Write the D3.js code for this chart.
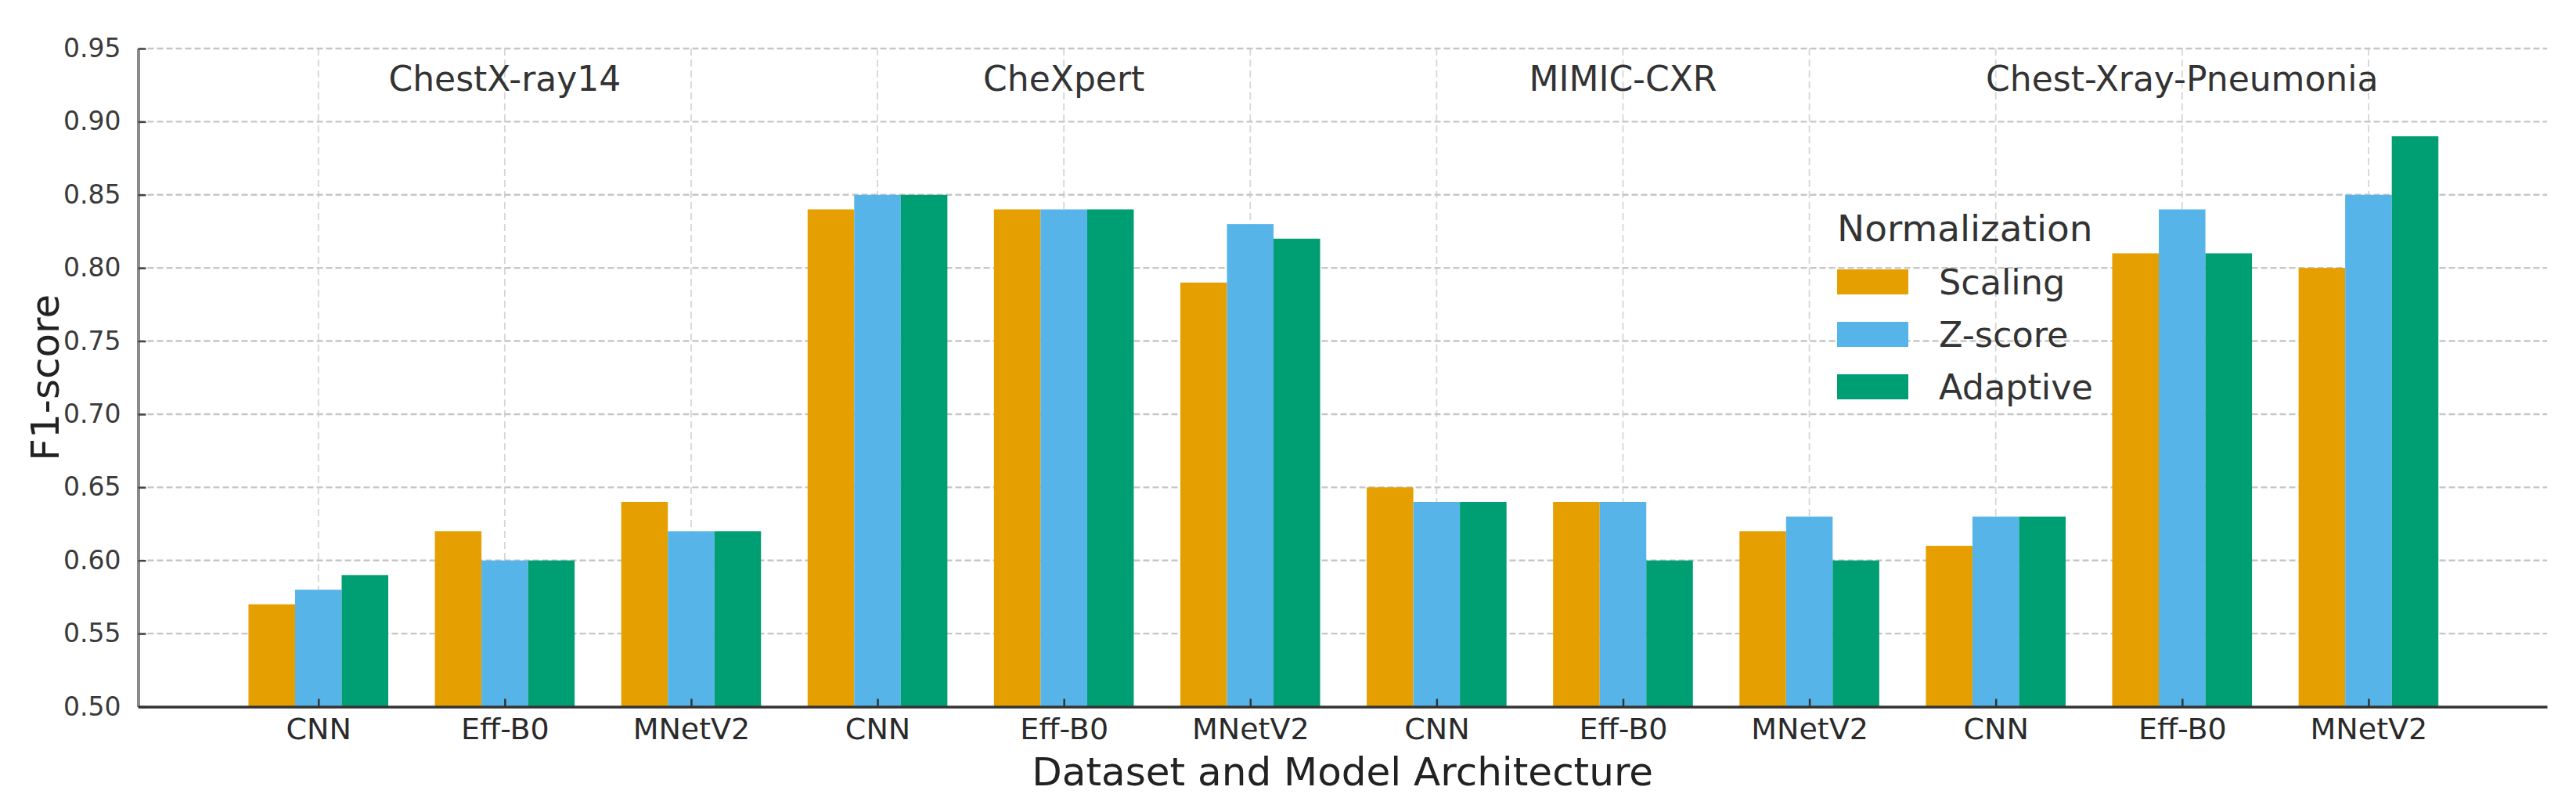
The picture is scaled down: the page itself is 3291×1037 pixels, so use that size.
<!DOCTYPE html>
<html>
<head>
<meta charset="utf-8">
<script src="https://cdn.jsdelivr.net/npm/d3@7"></script>
<style>
  html, body { margin: 0; padding: 0; background: #ffffff; }
  svg { display: block; font-family: "DejaVu Sans", sans-serif; }
</style>
</head>
<body>
<svg id="chart" width="3291" height="1037"></svg>
<script>
// ---- data ----
const datasets = ["ChestX-ray14", "CheXpert", "MIMIC-CXR", "Chest-Xray-Pneumonia"];
const models = ["CNN", "Eff-B0", "MNetV2"];
const methods = ["Scaling", "Z-score", "Adaptive"];
const scalingValues  = [0.57, 0.62, 0.64, 0.84, 0.84, 0.79, 0.65, 0.64, 0.62, 0.61, 0.81, 0.80];
const zscoreValues   = [0.58, 0.60, 0.62, 0.85, 0.84, 0.83, 0.64, 0.64, 0.63, 0.63, 0.84, 0.85];
const adaptiveValues = [0.59, 0.60, 0.62, 0.85, 0.84, 0.82, 0.64, 0.60, 0.60, 0.63, 0.81, 0.89];
const yTicks = [0.50, 0.55, 0.60, 0.65, 0.70, 0.75, 0.80, 0.85, 0.90, 0.95];
const xLabels = datasets.flatMap(() => models);
const seriesValues = [scalingValues, zscoreValues, adaptiveValues];
const colors = ["#E69F00", "#56B4E9", "#009E73"];

(function () {
// ---- layout ----
const svg = d3.select("#chart");
const pLeft = 176.5, pRight = 3254, pTop = 62, pBottom = 902.5;
const x = d3.scaleLinear().domain([-0.967, 11.958]).range([pLeft, pRight]);
const y = d3.scaleLinear().domain([0.50, 0.95]).range([pBottom, pTop]);
const barStep = 0.25;
const barW = x(barStep) - x(0);
const idx = d3.range(xLabels.length);

// gridlines
const grid = svg.append("g");
grid.selectAll("line.v").data(idx).join("line")
  .attr("class", "v")
  .attr("x1", d => x(d)).attr("x2", d => x(d))
  .attr("y1", pTop).attr("y2", pBottom)
  .attr("stroke", "#d6d6d6").attr("stroke-width", 1.8)
  .attr("stroke-dasharray", "9,5");
grid.selectAll("line.h").data(yTicks.slice(1)).join("line")
  .attr("class", "h")
  .attr("x1", pLeft).attr("x2", pRight)
  .attr("y1", d => y(d)).attr("y2", d => y(d))
  .attr("stroke", "#c6c6c6").attr("stroke-width", 2.4)
  .attr("stroke-dasharray", "8,4");

// bars
seriesValues.forEach((vals, j) => {
  svg.append("g").selectAll("rect").data(vals).join("rect")
    .attr("x", (d, i) => x(i + (j - 1) * barStep) - barW / 2)
    .attr("width", barW)
    .attr("y", d => y(d))
    .attr("height", d => y(0.50) - y(d))
    .attr("fill", colors[j]);
});

// y axis
const yAxis = d3.axisLeft(y).tickValues(yTicks).tickFormat(d3.format(".2f")).tickSizeInner(-10).tickSizeOuter(0).tickPadding(22);
const gy = svg.append("g").attr("transform", `translate(${pLeft},0)`).call(yAxis);
gy.select(".domain").attr("stroke", "#8a8a8a").attr("stroke-width", 4);
gy.selectAll(".tick line").attr("stroke", "#444").attr("stroke-width", 2.5);
gy.selectAll(".tick text").attr("font-size", 33).attr("fill", "#3a3a3a")
  .attr("font-family", "DejaVu Sans");

// x axis
const xAxis = d3.axisBottom(x).tickValues(idx).tickFormat(i => xLabels[i]).tickSizeInner(-10).tickSizeOuter(0).tickPadding(0);
const gx = svg.append("g").attr("transform", `translate(0,${pBottom})`).call(xAxis);
gx.select(".domain").attr("stroke", "#333").attr("stroke-width", 3.5);
gx.selectAll(".tick line").attr("stroke", "#333").attr("stroke-width", 2.5);
gx.selectAll(".tick text").attr("font-size", 38).attr("fill", "#2a2a2a")
  .attr("font-family", "DejaVu Sans").attr("dy", null).attr("y", 41.5);

// group titles
svg.append("g").selectAll("text").data(datasets).join("text")
  .attr("x", (d, k) => x(k * 3 + 1))
  .attr("y", 116)
  .attr("text-anchor", "middle")
  .attr("font-size", 44)
  .attr("fill", "#333")
  .text(d => d);

// axis titles
svg.append("text")
  .attr("x", (pLeft + pRight) / 2).attr("y", 1003)
  .attr("text-anchor", "middle").attr("font-size", 50).attr("fill", "#222")
  .text("Dataset and Model Architecture");
svg.append("text")
  .attr("transform", `translate(75,${(pTop + pBottom) / 2}) rotate(-90)`)
  .attr("text-anchor", "middle").attr("font-size", 50).attr("fill", "#222")
  .text("F1-score");

// legend
const lg = svg.append("g").attr("transform", "translate(2347,0)");
lg.append("text").attr("x", 0).attr("y", 308).attr("font-size", 47).attr("fill", "#333").text("Normalization");
methods.forEach((m, j) => {
  const py = 344 + j * 67;
  lg.append("rect").attr("x", 0).attr("y", py).attr("width", 91).attr("height", 32).attr("fill", colors[j]);
  lg.append("text").attr("x", 130).attr("y", py + 32).attr("font-size", 44.5).attr("fill", "#333").text(m);
});
})();
</script>
</body>
</html>
